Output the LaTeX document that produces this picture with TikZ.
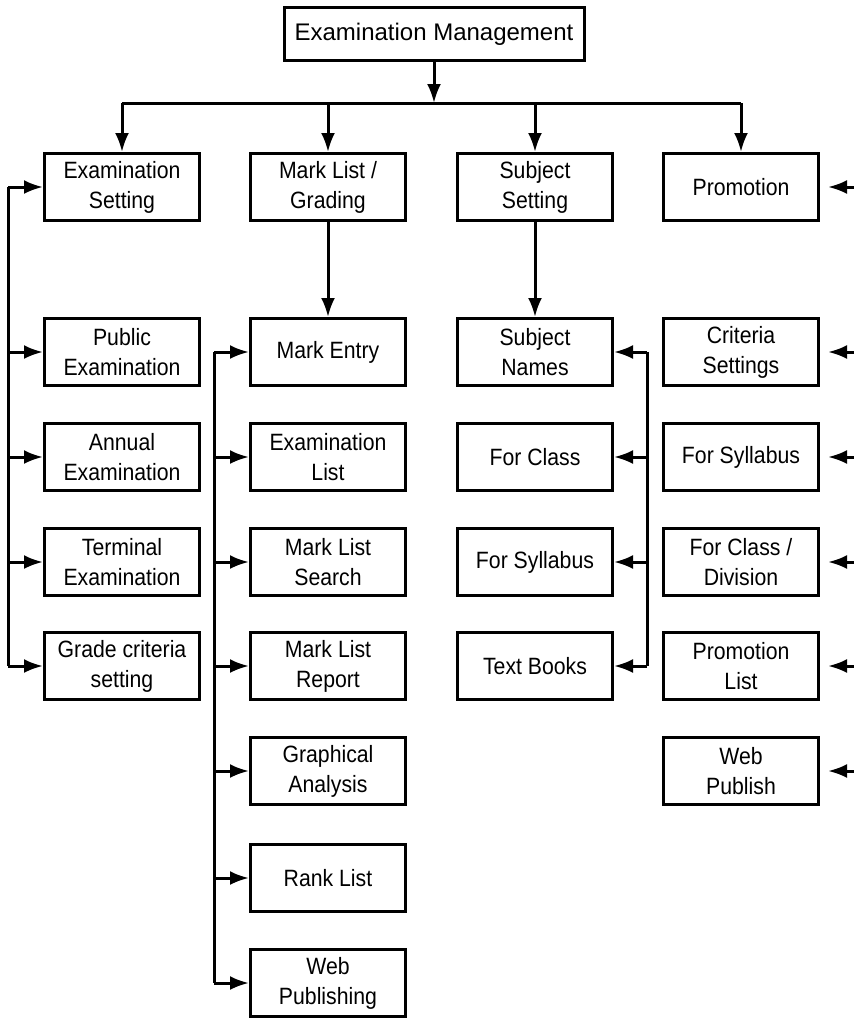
\documentclass[tikz,border=0pt]{standalone}
\usepackage{fontspec}
\setmainfont{Liberation Sans}
\newfontfamily\narrowfont{Liberation Sans}[FakeStretch=0.9]
\usetikzlibrary{arrows.meta}

\begin{document}
\begin{tikzpicture}[x=0.5pt, y=-0.5pt, line width=1.5pt, >={Latex[length=9.5pt,width=7pt]},
		every node/.style={align=center},
		box/.style={draw, font=\narrowfont\fontsize{11.8}{15}\selectfont, minimum width=77.5pt, minimum height=33.5pt, inner sep=0pt}]
		\useasboundingbox (0,0) rectangle (854,1019);
		% top
		\node[box, font=\fontsize{12}{15}\selectfont, minimum width=150pt, minimum height=26.5pt] (top) at (434,34) {Examination Management};
		% modules
		\node[box] (exset) at (122,187) {Examination\\Setting};
		\node[box] (mlgrade) at (328,187) {Mark List /\\Grading};
		\node[box] (subset) at (535,187) {Subject\\Setting};
		\node[box] (promo) at (741,187) {Promotion};
		% examination setting
		\node[box] (pubex) at (122,352) {Public\\Examination};
		\node[box] (annex) at (122,457) {Annual\\Examination};
		\node[box] (termex) at (122,562) {Terminal\\Examination};
		\node[box] (gradecrit) at (122,666) {Grade criteria\\setting};
		% mark list
		\node[box] (markentry) at (328,352) {Mark Entry};
		\node[box] (exlist) at (328,457) {Examination\\List};
		\node[box] (mlsearch) at (328,562) {Mark List\\Search};
		\node[box] (mlreport) at (328,666) {Mark List\\Report};
		\node[box] (graph) at (328,771) {Graphical\\Analysis};
		\node[box] (rank) at (328,878) {Rank List};
		\node[box] (webpub) at (328,983) {Web\\Publishing};
		% subject setting
		\node[box] (subnames) at (535,352) {Subject\\Names};
		\node[box] (forclass) at (535,457) {For Class};
		\node[box] (forsyl) at (535,562) {For Syllabus};
		\node[box] (textbooks) at (535,666) {Text Books};
		% promotion
		\node[box] (critset) at (741,352) {Criteria\\Settings};
		\node[box] (psyl) at (741,457) {For Syllabus};
		\node[box] (pclass) at (741,562) {For Class /\\Division};
		\node[box] (plist) at (741,666) {Promotion\\List};
		\node[box] (pweb) at (741,771) {Web\\Publish};
		% bus lines
		\coordinate (bus) at (434,103);
		\coordinate (lbus) at (8,0);
		\coordinate (mbus) at (214,0);
		\coordinate (sbus) at (647,0);
		\coordinate (edge) at (854,0);
		\draw[->] (top) -- (bus);
		\draw (bus -| exset.north) -- (bus -| promo.north);
		\foreach \n in {exset,mlgrade,subset,promo}
			\draw[->] (bus -| \n.north) -- (\n.north);
		\draw[->] (mlgrade) -- (markentry);
		\draw[->] (subset) -- (subnames);
		\draw (lbus |- exset.west) -- (lbus |- gradecrit.west);
		\foreach \n in {exset,pubex,annex,termex,gradecrit}
			\draw[->] (lbus |- \n.west) -- (\n.west);
		\draw (mbus |- markentry.west) -- (mbus |- webpub.west);
		\foreach \n in {markentry,exlist,mlsearch,mlreport,graph,rank,webpub}
			\draw[->] (mbus |- \n.west) -- (\n.west);
		\draw (sbus |- subnames.east) -- (sbus |- textbooks.east);
		\foreach \n in {subnames,forclass,forsyl,textbooks}
			\draw[->] (sbus |- \n.east) -- (\n.east);
		\foreach \n in {promo,critset,psyl,pclass,plist,pweb}
			\draw[->, shorten >=4pt] (edge |- \n.east) -- (\n.east);
	\end{tikzpicture}
\end{document}
